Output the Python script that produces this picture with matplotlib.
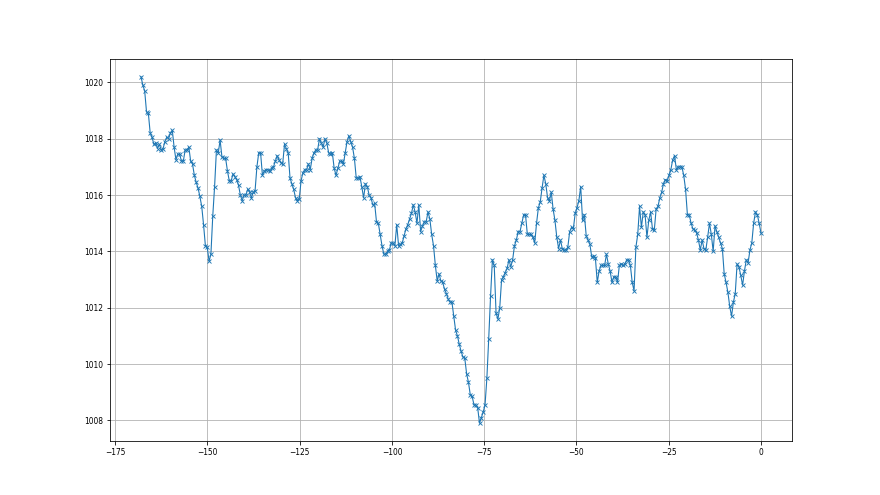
import matplotlib
matplotlib.use("Agg")
import matplotlib.pyplot as plt
import numpy as np

# pressure readings (hPa), oldest first
pressure = [
    # -168 .. -138.5
    1020.2, 1019.9, 1019.7, 1018.95, 1018.9, 1018.2, 1018.05, 1017.8, 1017.85, 1017.65,
    1017.8, 1017.6, 1017.65, 1017.9, 1018.05, 1018.0, 1018.2, 1018.3, 1017.7, 1017.25,
    1017.45, 1017.45, 1017.2, 1017.2, 1017.6, 1017.6, 1017.7, 1017.2, 1017.1, 1016.7,
    1016.45, 1016.25, 1015.95, 1015.6, 1014.95, 1014.2, 1014.15, 1013.65, 1013.9, 1015.25,
    1016.3, 1017.6, 1017.5, 1017.95, 1017.35, 1017.3, 1017.3, 1016.85, 1016.5, 1016.5,
    1016.75, 1016.65, 1016.55, 1016.35, 1016.0, 1015.8, 1016.0, 1016.0, 1016.2, 1016.1,
    # -138 .. -109
    1015.9, 1016.1, 1016.15, 1017.0, 1017.5, 1017.5, 1016.7, 1016.85, 1016.9, 1016.9,
    1016.85, 1016.95, 1017.0, 1017.2, 1017.4, 1017.25, 1017.15, 1017.1, 1017.8, 1017.65,
    1017.5, 1016.6, 1016.4, 1016.2, 1015.9, 1015.8, 1015.85, 1016.5, 1016.8, 1016.9,
    1016.9, 1017.1, 1016.9, 1017.3, 1017.5, 1017.6, 1017.6, 1018.0, 1017.85, 1017.7,
    1018.0, 1017.85, 1017.5, 1017.45, 1017.5, 1016.95, 1016.7, 1016.95, 1017.2, 1017.2,
    1017.1, 1017.5, 1017.9, 1018.1, 1017.9, 1017.7, 1017.3, 1016.6, 1016.6,
    # -108.5 .. -79
    1016.65, 1016.3, 1015.9, 1016.4, 1016.3, 1016.0, 1015.9, 1015.65, 1015.7, 1015.05,
    1015.0, 1014.6, 1014.2, 1013.9, 1013.9, 1014.0, 1014.05, 1014.3, 1014.3, 1014.2,
    1014.95, 1014.2, 1014.25, 1014.3, 1014.55, 1014.8, 1014.95, 1015.15, 1015.35, 1015.65,
    1015.4, 1015.0, 1015.65, 1014.7, 1014.9, 1015.05, 1015.05, 1015.4, 1015.15, 1014.6,
    1014.2, 1013.5, 1012.95, 1013.2, 1012.95, 1012.9, 1012.65, 1012.5, 1012.3, 1012.2,
    1012.2, 1011.7, 1011.2, 1011.0, 1010.7, 1010.45, 1010.25, 1010.2, 1009.65, 1009.35,
    # -78.5 .. -49.5
    1008.9, 1008.85, 1008.55, 1008.55, 1008.45, 1007.9, 1008.1, 1008.3, 1008.55, 1009.5,
    1010.9, 1012.4, 1013.7, 1013.5, 1011.8, 1011.6, 1012.0, 1013.0, 1013.1, 1013.25,
    1013.4, 1013.7, 1013.45, 1013.7, 1014.2, 1014.4, 1014.7, 1014.7, 1015.0, 1015.3,
    1015.3, 1014.6, 1014.6, 1014.6, 1014.5, 1014.3, 1015.0, 1015.55, 1015.75, 1016.25,
    1016.7, 1016.4, 1015.9, 1015.8, 1016.1, 1015.5, 1015.1, 1014.5, 1014.1, 1014.4,
    1014.1, 1014.05, 1014.05, 1014.15, 1014.7, 1014.85, 1014.8, 1015.35, 1015.55,
    # -49 .. -20
    1015.8, 1016.3, 1015.1, 1015.3, 1014.55, 1014.4, 1014.25, 1013.8, 1013.85, 1013.75,
    1012.9, 1013.3, 1013.5, 1013.5, 1013.5, 1013.9, 1013.55, 1013.3, 1012.9, 1013.1,
    1013.1, 1012.9, 1013.5, 1013.55, 1013.5, 1013.55, 1013.7, 1013.7, 1013.5, 1012.9,
    1012.6, 1014.15, 1014.6, 1015.6, 1014.85, 1015.4, 1015.3, 1014.5, 1015.1, 1015.4,
    1014.8, 1014.75, 1015.5, 1015.6, 1015.9, 1016.1, 1016.4, 1016.55, 1016.5, 1016.7,
    1016.9, 1017.25, 1017.4, 1016.9, 1017.0, 1017.0, 1017.0, 1016.7, 1016.2,
    # -19.5 .. 0
    1015.3, 1015.3, 1015.0, 1014.8, 1014.75, 1014.65, 1014.4, 1014.05, 1014.4, 1014.1,
    1014.05, 1014.5, 1015.0, 1014.6, 1014.0, 1014.9, 1014.7, 1014.5, 1014.3, 1014.1,
    1013.2, 1012.9, 1012.55, 1012.05, 1011.7, 1012.2, 1012.5, 1013.55, 1013.45, 1013.15,
    1012.8, 1013.3, 1013.7, 1013.6, 1014.05, 1014.3, 1015.0, 1015.4, 1015.3, 1015.0,
    1014.65,
]

# hours before now, evenly spaced over the last week
hours = np.linspace(-168, 0, len(pressure))

fig, ax = plt.subplots(figsize=(880 / 72, 495 / 72), dpi=72)
ax.plot(hours, pressure, marker='x', color='#1f77b4', linewidth=1.1,
        markersize=4.5, markeredgewidth=0.9)
ax.grid(True, color='#b0b0b0', linewidth=0.8)
ax.set_xticks([-175, -150, -125, -100, -75, -50, -25, 0])
ax.set_yticks([1008, 1010, 1012, 1014, 1016, 1018, 1020])
ax.tick_params(labelsize=7.5)

plt.savefig("out.png", dpi=72)
